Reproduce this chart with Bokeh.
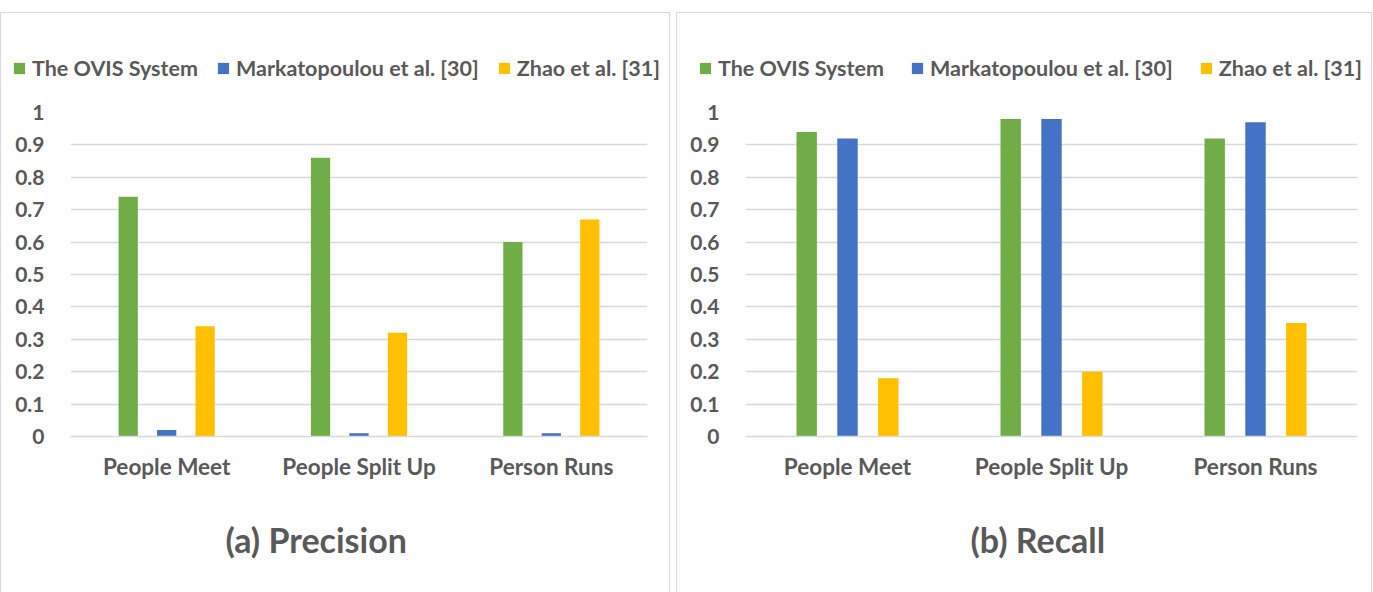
from bokeh.plotting import figure
from bokeh.models import (FactorRange, Range1d, FixedTicker, Legend, LegendItem, Title)
from bokeh.transform import dodge
from bokeh.layouts import row, column
from bokeh.embed import file_html
from bokeh.resources import INLINE

categories = ["People Meet", "People Split Up", "Person Runs"]
series_names = ["The OVIS System", "Markatopoulou et al. [30]", "Zhao et al. [31]"]
precision_ovis = [0.74, 0.86, 0.60]
precision_mark = [0.02, 0.01, 0.01]
precision_zhao = [0.34, 0.32, 0.67]
recall_ovis = [0.94, 0.98, 0.92]
recall_mark = [0.92, 0.98, 0.97]
recall_zhao = [0.18, 0.20, 0.35]
y_ticks = [0.0, 0.1, 0.2, 0.3, 0.4, 0.5, 0.6, 0.7, 0.8, 0.9, 1.0]
y_tick_labels = ["0", "0.1", "0.2", "0.3", "0.4", "0.5", "0.6", "0.7", "0.8", "0.9", "1"]
titles = ["(a) Precision", "(b) Recall"]

colors = ["#70AD47", "#4472C4", "#FFC000"]
TXT = "#595959"
GRID = "#D9D9D9"
FONT = "Lato"
BORDER = "1px solid #D9D9D9"
NAN = float("nan")


def make_panel(series, title, border_left, frame_w, border_right, legend_x,
               legend_spacing, title_offset):
    content_w = border_left + frame_w + border_right

    # legend strip (top part of the panel)
    lg = figure(frame_width=content_w, frame_height=85, x_range=(0, 1), y_range=(0, 1),
                min_border=0, output_backend="svg", toolbar_location=None)
    lg.axis.visible = False
    lg.grid.visible = False
    lg.outline_line_color = None
    lg.styles = {"border-top": BORDER, "border-left": BORDER, "border-right": BORDER,
                 "margin-top": "12px"}
    # legend-only proxies (NaN geometry: nothing is drawn in the strip itself)
    proxies = [lg.quad(left=[NAN], right=[NAN], top=[NAN], bottom=[NAN],
                       fill_color=c, line_color=None) for c in colors]
    legend = Legend(items=[LegendItem(label=n, renderers=[r]) for n, r in zip(series_names, proxies)],
                    orientation="horizontal", location=(legend_x, 18),
                    label_text_font=FONT, label_text_font_style="bold",
                    label_text_font_size="21.5px", label_text_color=TXT,
                    glyph_width=14, glyph_height=14, label_standoff=6,
                    spacing=legend_spacing, padding=0, margin=0,
                    border_line_color=None, background_fill_alpha=0)
    lg.add_layout(legend, "center")

    p = figure(x_range=FactorRange(factors=categories, range_padding=0),
               y_range=Range1d(0, 1),
               frame_width=frame_w, frame_height=323,
               min_border_left=border_left, min_border_right=border_right,
               min_border_top=14, min_border_bottom=157,
               output_backend="svg", toolbar_location=None)
    p.styles = {"border-left": BORDER, "border-right": BORDER, "border-bottom": BORDER}
    data = dict(cat=categories, a=series[0], b=series[1], c=series[2])
    offsets = [-0.2, 0.0, 0.2]
    keys = ["a", "b", "c"]
    for off, k, col in zip(offsets, keys, colors):
        p.vbar(x=dodge("cat", off, range=p.x_range), top=k, width=0.1,
               source=data, fill_color=col, line_color=None)

    p.yaxis.ticker = FixedTicker(ticks=y_ticks)
    p.yaxis.major_label_overrides = dict(zip(y_ticks, y_tick_labels))
    for ax in (p.xaxis, p.yaxis):
        ax.major_tick_line_color = None
        ax.minor_tick_line_color = None
        ax.major_label_text_font = FONT
        ax.major_label_text_font_style = "bold"
        ax.major_label_text_color = TXT
    p.yaxis.major_label_text_font_size = "21px"
    p.xaxis.major_label_text_font_size = "22.5px"
    p.yaxis.axis_line_color = None
    p.yaxis.major_label_standoff = 20
    p.xaxis.axis_line_color = GRID
    p.xaxis.axis_line_width = 1.5
    p.xaxis.major_label_standoff = 10
    p.xgrid.grid_line_color = None
    p.ygrid.grid_line_color = GRID
    p.ygrid.grid_line_width = 1.5
    p.ygrid.ticker = FixedTicker(ticks=y_ticks)
    p.outline_line_color = None

    t = Title(text=title, align="left", text_font=FONT, text_font_style="bold",
              text_font_size="34px", text_color=TXT, standoff=68, offset=title_offset)
    p.add_layout(t, "below")
    return column(lg, p, spacing=0)


p1 = make_panel([precision_ovis, precision_mark, precision_zhao], titles[0],
                69, 575, 24, 11, 18, 155)
p2 = make_panel([recall_ovis, recall_mark, recall_zhao], titles[1],
                68, 610, 16, 21, 26, 225)

layout = row(p1, p2, spacing=6)
open("out.html", "w").write(file_html(layout, INLINE))
